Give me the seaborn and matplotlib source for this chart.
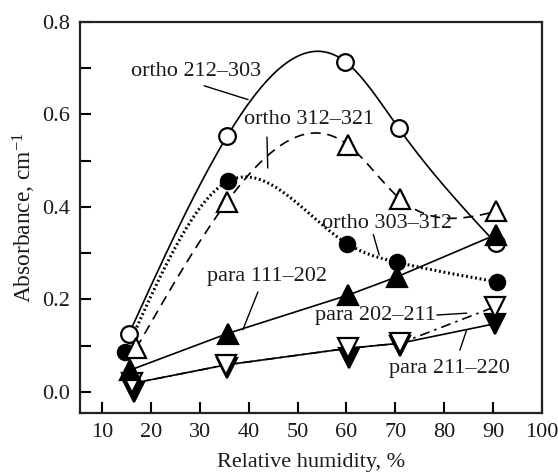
import numpy as np
import pandas as pd
import matplotlib
matplotlib.use("Agg")
import matplotlib.pyplot as plt
import seaborn as sns

# ---------------- data ----------------
o212_x = [15.5, 35.6, 59.8, 70.7, 90.5]
o212_y = [0.125, 0.553, 0.714, 0.570, 0.322]

o312_x = [17.0, 35.5, 60.3, 70.9, 90.6]
o312_y = [0.094, 0.410, 0.534, 0.418, 0.390]

o303_x = [14.8, 35.7, 60.2, 70.4, 90.7]
o303_y = [0.085, 0.455, 0.320, 0.280, 0.238]

p111_x = [15.8, 35.7, 60.3, 70.4, 90.6]
p111_y = [0.047, 0.126, 0.209, 0.249, 0.340]

p202_x = [16.2, 35.3, 60.4, 71.0, 90.4]
p202_y = [0.018, 0.058, 0.094, 0.105, 0.184]

p211_x = [16.5, 35.5, 60.6, 71.0, 90.3]
p211_y = [0.000, 0.052, 0.072, 0.098, 0.147]
# the solid para 211-220 line as drawn in the reference (runs along the open marks)
p211_line_x = [16.2, 35.3, 60.4, 71.0, 90.3]
p211_line_y = [0.018, 0.058, 0.094, 0.105, 0.147]

x_ticks = [10, 20, 30, 40, 50, 60, 70, 80, 90, 100]
y_ticks = [0.0, 0.2, 0.4, 0.6, 0.8]
y_minor = [0.1, 0.3, 0.5, 0.7]

# ---------------- style ----------------
sns.set_theme(style="ticks")
plt.rcParams["font.family"] = ["Liberation Serif", "DejaVu Serif"]
plt.rcParams["mathtext.fontset"] = "custom"
plt.rcParams["mathtext.rm"] = "Liberation Serif"
plt.rcParams["mathtext.it"] = "Liberation Serif:italic"
FS = 16
TXT = "#1a1a1a"


def natural_spline(x, y, n=300):
    """Smooth rendering of a curve through the data points (natural cubic spline)."""
    x = np.asarray(x, float)
    y = np.asarray(y, float)
    k = len(x)
    h = np.diff(x)
    A = np.zeros((k, k))
    b = np.zeros(k)
    A[0, 0] = 1
    A[-1, -1] = 1
    for i in range(1, k - 1):
        A[i, i - 1] = h[i - 1]
        A[i, i] = 2 * (h[i - 1] + h[i])
        A[i, i + 1] = h[i]
        b[i] = 6 * ((y[i + 1] - y[i]) / h[i] - (y[i] - y[i - 1]) / h[i - 1])
    M = np.linalg.solve(A, b)
    xs = np.linspace(x[0], x[-1], n)
    ys = np.empty_like(xs)
    for j, xv in enumerate(xs):
        i = min(max(np.searchsorted(x, xv, side="right") - 1, 0), k - 2)
        t1 = x[i + 1] - xv
        t0 = xv - x[i]
        ys[j] = (M[i] * t1 ** 3 / (6 * h[i]) + M[i + 1] * t0 ** 3 / (6 * h[i])
                 + (y[i] / h[i] - M[i] * h[i] / 6) * t1
                 + (y[i + 1] / h[i] - M[i + 1] * h[i] / 6) * t0)
    return xs, ys


fig = plt.figure(figsize=(5.58, 4.72), dpi=100)
ax = fig.add_axes([80 / 558, (472 - 413) / 472, (542 - 80) / 558, (413 - 22) / 472])

LW = 1.2
MEW = 1.6
k = "black"

# smooth ortho curves
xs, ys = natural_spline(o212_x, o212_y)
sns.lineplot(x=xs, y=ys, ax=ax, color=k, lw=LW, sort=False, estimator=None)
xs, ys = natural_spline(o312_x, o312_y)
sns.lineplot(x=xs, y=ys, ax=ax, color=k, lw=LW, sort=False, estimator=None,
             linestyle=(0, (6, 4)))
xs, ys = natural_spline(o303_x, o303_y)
sns.lineplot(x=xs, y=ys, ax=ax, color=k, lw=2.2, sort=False, estimator=None,
             linestyle=(0, (0.6, 0.9)))

# straight para lines
sns.lineplot(x=p211_line_x, y=p211_line_y, ax=ax, color=k, lw=LW, estimator=None)
sns.lineplot(x=p202_x, y=p202_y, ax=ax, color=k, lw=LW, estimator=None,
             linestyle=(0, (6, 3, 1.5, 3)))
sns.lineplot(x=p111_x, y=p111_y, ax=ax, color=k, lw=LW, estimator=None)


def marks(x, y, m, filled, ms):
    sns.lineplot(x=x, y=y, ax=ax, estimator=None, linestyle="none", marker=m,
                 markersize=ms, markeredgewidth=MEW, markeredgecolor=k,
                 markerfacecolor=(k if filled else "white"), color=k, zorder=5)


marks(o212_x, o212_y, "o", False, 12)
marks(o303_x, o303_y, "o", True, 11)
marks(o312_x, o312_y, "^", False, 14)
marks(p211_x, p211_y, "v", True, 14)
marks(p202_x, p202_y, "v", False, 14)
marks(p111_x, p111_y, "^", True, 14)


def lab(txt, tx, ty, x0, y0, x1, y1):
    ax.text(tx, ty, txt, fontsize=FS, ha="center", va="center", color=TXT, zorder=6)
    ax.plot([x0, x1], [y0, y1], color=k, lw=1.0)


lab("ortho 212\u2013303", 29.3, 0.692, 30.9, 0.662, 39.9, 0.632)
lab("ortho 312\u2013321", 52.3, 0.590, 43.75, 0.551, 43.9, 0.484)
lab("ortho 303\u2013312", 68.3, 0.364, 65.5, 0.340, 66.7, 0.296)
lab("para 111\u2013202", 43.85, 0.249, 41.9, 0.216, 38.8, 0.134)
lab("para 202\u2013211", 65.9, 0.166, 78.5, 0.166, 84.6, 0.170)
lab("para 211\u2013220", 81.1, 0.051, 83.2, 0.090, 84.6, 0.134)

ax.set_xlim(5.5, 100)
ax.set_ylim(-0.046, 0.8)
ax.set_xticks(x_ticks)
ax.set_xticklabels([str(v) for v in x_ticks], fontsize=FS)
ax.set_yticks(y_ticks)
ax.set_yticklabels([f"{v:.1f}" for v in y_ticks], fontsize=FS)
ax.set_yticks(y_minor, minor=True)
ax.tick_params(axis="both", which="both", direction="in", length=8, width=1.5,
               color=k, labelcolor=TXT, pad=7)
for s in ax.spines.values():
    s.set_visible(True)
    s.set_linewidth(1.6)
    s.set_color("#222222")

ax.set_xlabel("Relative humidity, %", fontsize=FS, color=TXT, labelpad=8)
ax.set_ylabel("Absorbance, cm$^{\u22121}$", fontsize=16.8, color=TXT, labelpad=3)
ax.set_facecolor("white")
fig.patch.set_facecolor("white")

fig.savefig("out.png", dpi=100)
